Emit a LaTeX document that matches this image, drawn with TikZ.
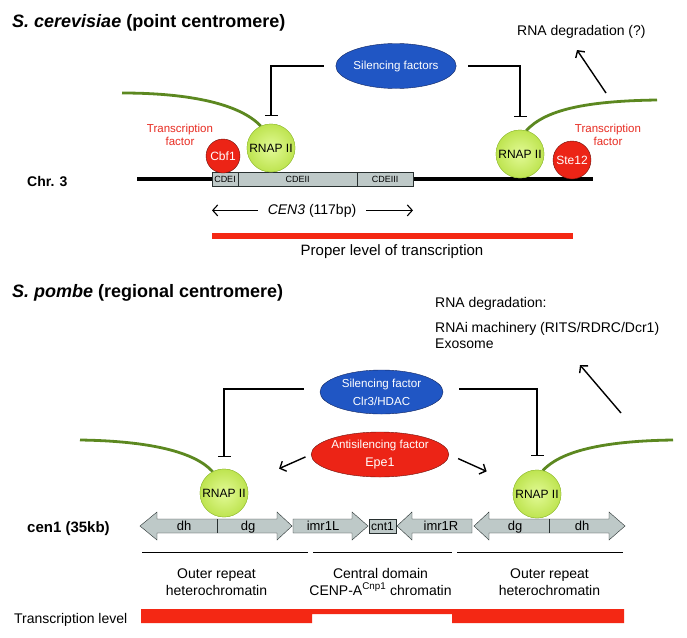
\documentclass[tikz,border=0pt]{standalone}
\usepackage{fontspec}
\setmainfont{Liberation Sans}
\setsansfont{Liberation Sans}
\usetikzlibrary{positioning,shapes.geometric,calc,arrows.meta}
\definecolor{sfblue}{RGB}{32,86,196}
\definecolor{sfblueedge}{RGB}{18,38,96}
\definecolor{sfred}{RGB}{236,36,22}
\definecolor{sfrededge}{RGB}{110,18,12}
\definecolor{tfred}{RGB}{232,44,34}
\definecolor{barred}{RGB}{244,40,20}
\definecolor{polin}{RGB}{226,250,150}
\definecolor{polout}{RGB}{190,228,80}
\definecolor{poledge}{RGB}{150,190,60}
\definecolor{rnagreen}{RGB}{92,136,32}
\definecolor{repgray}{RGB}{190,201,200}
\definecolor{repedge}{RGB}{40,48,48}
\newcommand{\fsz}[1]{\fontsize{#1}{#1}\selectfont}

\begin{document}
\begin{tikzpicture}[
    x=1pt, y=-1pt,
    rnap/.style={circle, draw=poledge, inner color=polin, outer color=polout, minimum size=48pt, inner sep=0pt, font=\fsz{12}},
    tf/.style={circle, draw=sfrededge, fill=sfred, text=white, inner sep=0pt, font=\fsz{12}},
    factor/.style={ellipse, draw=sfblueedge, fill=sfblue, text=white, inner sep=0pt, align=center, font=\fontsize{11.6}{18}\selectfont},
    anti/.style={factor, draw=sfrededge, fill=sfred},
    cde/.style={draw=repedge, fill=repgray, minimum height=14pt, inner sep=0pt, outer sep=0pt, font=\fsz{9}},
    rep/.style={draw=repedge, fill=repgray},
    reptxt/.style={inner sep=0pt, anchor=base, font=\fsz{13}},
    tflabel/.style={text=tfred, align=center, inner sep=0pt, font=\fontsize{11.5}{13}\selectfont},
    lab/.style={inner sep=0pt, font=\fsz{14}},
    title/.style={font=\fsz{18}\bfseries, anchor=base west, inner sep=0pt},
    inh/.style={-{Bar[width=13pt]}, line width=1.3pt},
    arr/.style={-{Straight Barb[length=5pt,width=11pt]}, line width=1.4pt},
    rna/.style={rnagreen, line width=2.8pt},
]
\fill[white] (0,0) rectangle (687,637);

% S. cerevisiae
\node[title] (titleA) at (12,27) {\textit{S. cerevisiae} (point centromere)};
\node[lab, font=\fsz{14}\bfseries, anchor=base west] (chrA) at (27,186) {Chr. 3};

\coordinate (chrL) at (137,179);
\coordinate (chrR) at (593,179);
\draw[line width=4pt] (chrL) -- (chrR);

\node[cde, minimum width=26pt] (cdeA) at (225,179) {CDEI};
\node[cde, minimum width=119pt, right=0pt of cdeA] (cdeB) {CDEII};
\node[cde, minimum width=56pt, right=0pt of cdeB] (cdeC) {CDEIII};

\coordinate (rnaA) at (122,93);
\coordinate (rnaB) at (657,100);
\node[rnap] (polA) at (271,148) {RNAP II};
\node[rnap] (polB) at (520,154) {RNAP II};
\draw[rna] (rnaA) .. controls (190,93) and (240,104) .. (polA.115);
\draw[rna] (polB.75) .. controls (545,110) and (585,101) .. (rnaB);
\node[rnap] at (polA) {RNAP II};
\node[rnap] at (polB) {RNAP II};

\node[tf, minimum size=34pt] (cbf) at (223,156) {Cbf1};
\node[tf, minimum size=38pt] (ste) at (572,160) {Ste12};
\node[tflabel] (tfA) at (180,134.5) {Transcription\\factor};
\node[tflabel] (tfB) at (608,134.5) {Transcription\\factor};

\node[factor, minimum width=102pt, minimum height=45pt] (silA) at (396,66) {Silencing factors};
\draw[inh, shorten <=12pt, shorten >=8pt] (silA.west) -| (polA.north);
\draw[inh, shorten <=12pt, shorten >=13pt] (silA.east) -| (polB.north);

\node[lab, anchor=base west] (degA) at (517,35) {RNA degradation (?)};
\coordinate (degAfoot) at (606,93);
\coordinate (degAtip) at (577,50);
\draw[arr] (degAfoot) -- (degAtip);

\node[lab, anchor=base] (cen) at (312,214) {\textit{CEN3} (117bp)};
\draw[arr, line width=1.1pt, shorten <=10pt] (cen.west) -- (cen.west -| cdeA.west);
\draw[arr, line width=1.1pt, shorten <=10pt] (cen.east) -- (cen.east -| cdeC.east);

\node[fill=barred, minimum width=361pt, minimum height=6pt, inner sep=0pt] (propbar) at (392.5,236) {};
\node[lab, font=\fsz{15}, anchor=base] (prop) at (392,255) {Proper level of transcription};

% S. pombe
\node[title] (titleB) at (12,297) {\textit{S. pombe} (regional centromere)};
\node[lab, anchor=base west] (degB1) at (435,307) {RNA degradation:};
\node[lab, anchor=base west] (degB2) at (435,332) {RNAi machinery (RITS/RDRC/Dcr1)};
\node[lab, anchor=base west] (degB3) at ([yshift=-16pt]degB2.base west) {Exosome};
\coordinate (degBfoot) at (621,413);
\coordinate (degBtip) at (580,365);
\draw[arr] (degBfoot) -- (degBtip);

\node[factor, minimum width=123pt, minimum height=44pt] (silB) at (381.5,392) {Silencing factor\\Clr3/HDAC};
\node[anti, minimum width=122pt, minimum height=45pt] (antiB) at (380,454.5) {Antisilencing factor\\{\fsz{12.5}Epe1}};

\coordinate (rnaC) at (80,440);
\coordinate (rnaD) at (673,440);
\node[rnap] (polC) at (224,493) {RNAP II};
\node[rnap] (polD) at (537,494) {RNAP II};
\draw[rna] (rnaC) .. controls (150,441) and (195,452) .. (polC.118);
\draw[rna] (polD.76) .. controls (560,452) and (600,441) .. (rnaD);
\node[rnap] at (polC) {RNAP II};
\node[rnap] at (polD) {RNAP II};

\draw[inh, shorten <=16pt, shorten >=12pt] ([yshift=3pt]silB.west) -| (polC.north);
\draw[inh, shorten <=16pt, shorten >=14pt] ([yshift=3pt]silB.east) -| (polD.north);
\draw[arr, shorten <=6pt, shorten >=36pt] (antiB.west) -- (polC);
\draw[arr, shorten <=10pt, shorten >=31pt] (antiB.east) -- (polD);

\node[lab, font=\fsz{15}\bfseries, anchor=base west] (cenB) at (27,532) {cen1 (35kb)};

% repeats
\draw[rep] (140,526) -- (157,512) -- (157,519) -- (277,519) -- (277,512) -- (292,526)
  -- (277,540) -- (277,533) -- (157,533) -- (157,540) -- cycle;
\draw[repedge] (217,519) -- (217,533);
\draw[rep] (293,519) -- (352,519) -- (352,512) -- (368,526) -- (352,540) -- (352,533) -- (293,533) -- cycle;
\draw[rep] (369,519) rectangle (396,533);
\draw[rep] (397,526) -- (412,512) -- (412,519) -- (472,519) -- (472,533) -- (412,533) -- (412,540) -- cycle;
\draw[rep] (474,526) -- (489,512) -- (489,519) -- (609,519) -- (609,512) -- (625,526)
  -- (609,540) -- (609,533) -- (489,533) -- (489,540) -- cycle;
\draw[repedge] (549,519) -- (549,533);
\node[reptxt] (dhA) at (184,530) {dh};
\node[reptxt] (dgA) at (248,530) {dg};
\node[reptxt] (imrL) at (323,530) {imr1L};
\node[reptxt, font=\fsz{12}] (cnt) at (382.5,530) {cnt1};
\node[reptxt] (imrR) at (441,530) {imr1R};
\node[reptxt] (dgB) at (515,530) {dg};
\node[reptxt] (dhB) at (582,530) {dh};

\draw[line width=1pt] (142,552) -- (308,552);
\draw[line width=1pt] (313,552) -- (452,552);
\draw[line width=1pt] (457,552) -- (623,552);
\node[lab, anchor=base] (outA1) at (216.5,578) {Outer repeat};
\node[lab, anchor=base] (outA2) at (216.5,595) {heterochromatin};
\node[lab, anchor=base] (cdom1) at (380.5,578) {Central domain};
\node[lab, anchor=base] (cdom2) at (380.5,595) {CENP-A\textsuperscript{Cnp1} chromatin};
\node[lab, anchor=base] (outB1) at (549.5,578) {Outer repeat};
\node[lab, anchor=base] (outB2) at (549.5,595) {heterochromatin};

\node[lab, anchor=base west] (tlev) at (14,623) {Transcription level};
\fill[barred] (141,609) -- (624,609) -- (624,623) -- (452,623) -- (452,614) -- (312,614) -- (312,623) -- (141,623) -- cycle;
\end{tikzpicture}
\end{document}
